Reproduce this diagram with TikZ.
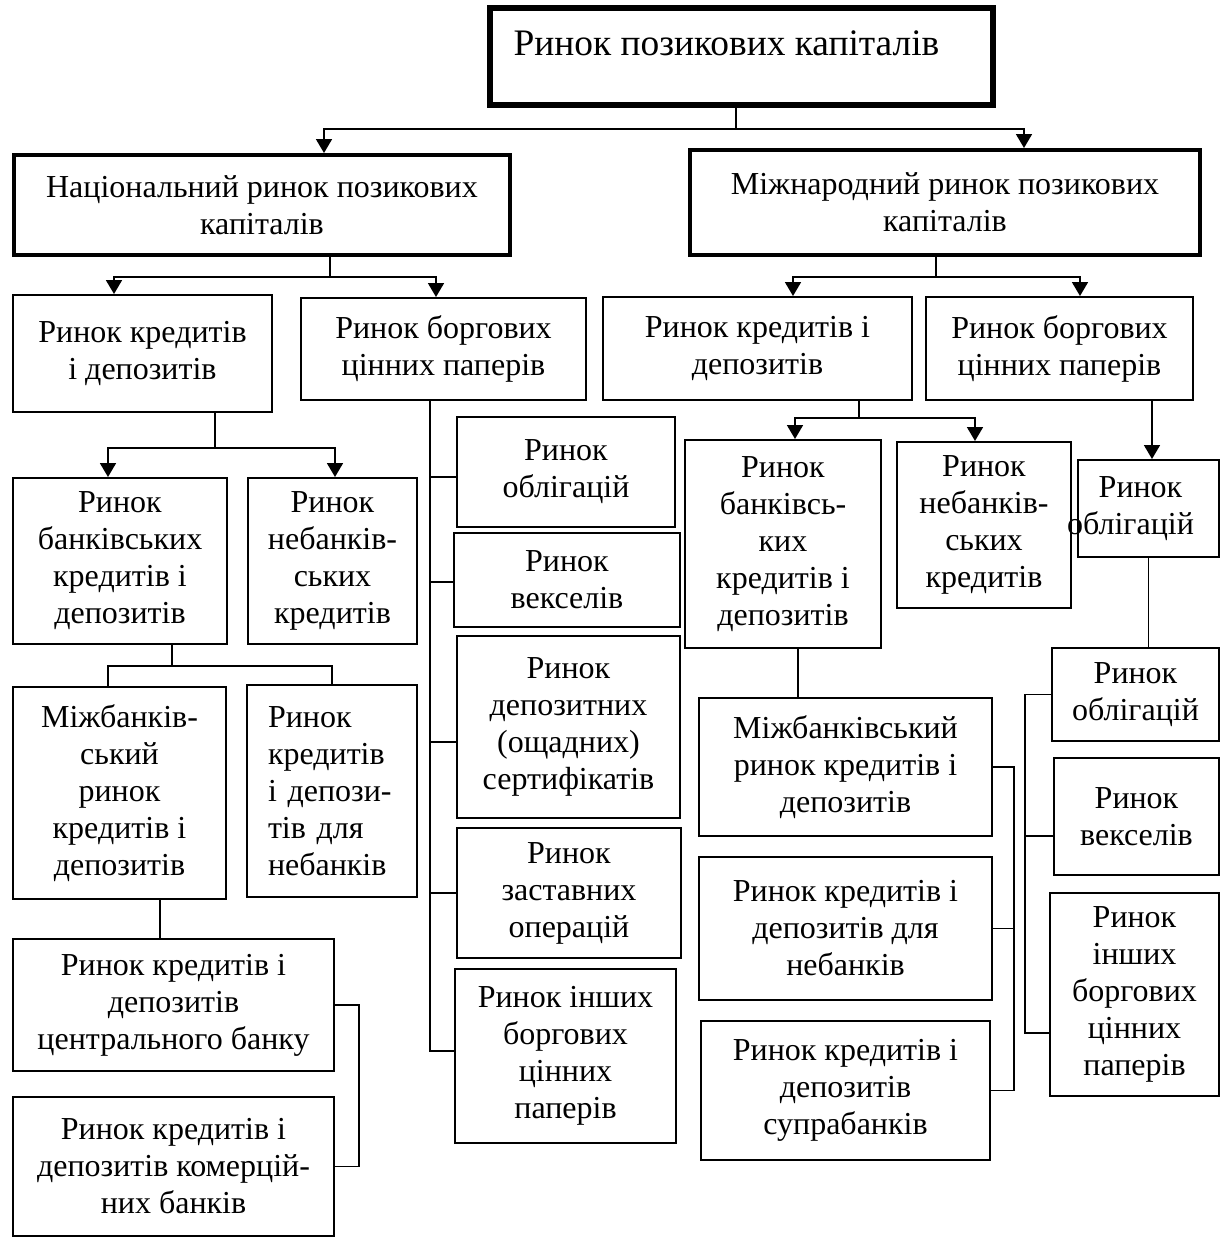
\documentclass[tikz,border=0pt]{standalone}
\usepackage{fontspec}
\setmainfont{Liberation Serif}
\usetikzlibrary{arrows.meta}

\begin{document}
\begin{tikzpicture}[x=0.5pt, y=-0.5pt, line width=0.9pt,
        every node/.style={font=\fontsize{16pt}{18.5pt}\selectfont},
        blk/.style={draw, line width=1pt, inner sep=0pt, align=center},
        bold/.style={blk, line width=2pt},
        arr/.style={-{Triangle[length=7pt, width=8pt]}}]
        \fill[white] (0,0) rectangle (1220,1238);
        \useasboundingbox (0,0) rectangle (1220,1238);

        % top levels
        \node[bold, line width=2.6pt, minimum width=251.5pt, minimum height=48.5pt, text height=14pt, text depth=15pt, font=\fontsize{18.7pt}{21pt}\selectfont] (top) at (741.5,56.5) {\hspace*{-15pt}Ринок позикових капіталів};
        \node[bold, minimum width=248pt, minimum height=50pt] (nat) at (262,205) {Національний ринок позикових\\капіталів};
        \node[bold, minimum width=255pt, minimum height=52.5pt] (intl) at (945,202.5) {Міжнародний ринок позикових\\капіталів};
        \node[blk, minimum width=129.5pt, minimum height=58.5pt] (nc) at (142.5,353.5) {Ринок кредитів\\і депозитів};
        \node[blk, minimum width=142.5pt, minimum height=51pt] (nd) at (443.5,349) {Ринок боргових\\цінних паперів};
        \node[blk, minimum width=154.5pt, minimum height=51.5pt] (ic) at (757.5,348.5) {Ринок кредитів і\\депозитів};
        \node[blk, minimum width=133.5pt, minimum height=51.5pt] (id) at (1059.5,348.5) {Ринок боргових\\цінних паперів};

        % national credits
        \node[blk, minimum width=107pt, minimum height=83pt] (nbank) at (120,561) {Ринок\\банківських\\кредитів і\\депозитів};
        \node[blk, minimum width=84.5pt, minimum height=83pt] (nnon) at (332.5,561) {Ринок\\небанків-\\ських\\кредитів};
        \node[blk, minimum width=106.5pt, minimum height=106pt] (ninter) at (119.5,793) {Міжбанків-\\ський\\ринок\\кредитів і\\депозитів};
        \node[blk, minimum width=85pt, minimum height=106pt, text width=64pt, align=left] (nfor) at (332,791) {Ринок\\кредитів\\і депози-\\тів для\\небанків};
        \node[blk, minimum width=160.5pt, minimum height=66pt] (ncb) at (173.5,1005) {Ринок кредитів і\\депозитів\\центрального банку};
        \node[blk, minimum width=160.5pt, minimum height=69.5pt] (ncom) at (173.5,1166.5) {Ринок кредитів і\\депозитів комерцій-\\них банків};

        % national debt securities
        \node[blk, minimum width=109pt, minimum height=55pt] (bonds) at (566,472) {Ринок\\облігацій};
        \node[blk, minimum width=113pt, minimum height=47pt] (bills) at (567,580) {Ринок\\векселів};
        \node[blk, minimum width=111.5pt, minimum height=91pt] (certs) at (568.5,727) {Ринок\\депозитних\\(ощадних)\\сертифікатів};
        \node[blk, minimum width=112pt, minimum height=65pt] (pledge) at (569,893) {Ринок\\заставних\\операцій};
        \node[blk, minimum width=110.5pt, minimum height=87pt] (odebt) at (565.5,1056) {Ринок інших\\боргових\\цінних\\паперів};

        % international
        \node[blk, minimum width=98pt, minimum height=104pt] (ibank) at (783,544) {Ринок\\банківсь-\\ких\\кредитів і\\депозитів};
        \node[blk, minimum width=87pt, minimum height=83pt] (inon) at (984,525) {Ринок\\небанків-\\ських\\кредитів};
        \node[blk, minimum width=70.5pt, minimum height=48.5pt] (ibondA) at (1148.5,508.5) {\hspace*{-8pt}Ринок\\\hspace*{-18pt}облігацій};
        \node[blk, minimum width=146.5pt, minimum height=69pt] (iinter) at (845.5,767) {Міжбанківський\\ринок кредитів і\\депозитів};
        \node[blk, minimum width=146.5pt, minimum height=71.5pt] (ifor) at (845.5,928.5) {Ринок кредитів і\\депозитів для\\небанків};
        \node[blk, minimum width=144.5pt, minimum height=69.5pt] (isupra) at (845.5,1090.5) {Ринок кредитів і\\депозитів\\супрабанків};
        \node[blk, minimum width=83.5pt, minimum height=46.5pt] (ibondB) at (1135.5,694.5) {Ринок\\облігацій};
        \node[blk, minimum width=82.5pt, minimum height=58.5pt] (ibillB) at (1136.5,816.5) {Ринок\\векселів};
        \node[blk, minimum width=84.5pt, minimum height=101.5pt] (iotherB) at (1134.5,994.5) {Ринок\\інших\\боргових\\цінних\\паперів};

        % connectors
        \draw ([xshift=-2.75pt]top.south) -- ++(0,21) coordinate (tj);
        \draw[arr] (tj) -| ([xshift=31pt]nat.north);
        \draw[arr] (tj) -| ([xshift=39.5pt]intl.north);

        \draw ([xshift=34pt]nat.south) -- ++(0,20) coordinate (nj);
        \draw[arr] (nj) -| ([xshift=-14.25pt]nc.north);
        \draw[arr] (nj) -| ([xshift=-3.75pt]nd.north);

        \draw ([xshift=-4.5pt]intl.south) -- ++(0,20) coordinate (ij);
        \draw[arr] (ij) -| ([xshift=17.75pt]ic.north);
        \draw[arr] (ij) -| ([xshift=10.25pt]id.north);

        \draw ([xshift=36.25pt]nc.south) -- ++(0,35) coordinate (ncj);
        \draw[arr] (ncj) -| ([xshift=-6pt]nbank.north);
        \draw[arr] (ncj) -| ([xshift=1.25pt]nnon.north);

        \draw ([xshift=26pt]nbank.south) -- ++(0,21) coordinate (nbj);
        \draw (nbj) -| ([xshift=-5.75pt]ninter.north);
        \draw (nbj) -| (nfor.north);
        \draw ([xshift=20.25pt]ninter.south) -- ([xshift=20.25pt]ninter.south |- ncb.north);
        \draw (ncb.east) -- ++(24,0) coordinate (nbr) |- (ncom.east);

        \draw ([xshift=-6.75pt]nd.south) coordinate (ndt) |- ([yshift=2.5pt]odebt.west);
        \foreach \n/\s in {bonds/-2.5pt, bills/-1pt, certs/-7.5pt, pledge/0pt}
            \draw ([yshift=\s]\n.west -| ndt) -- ([yshift=\s]\n.west);

        \draw ([xshift=50.75pt]ic.south) -- ++(0,17) coordinate (icj);
        \draw[arr] (icj) -| ([xshift=6pt]ibank.north);
        \draw[arr] (icj) -| ([xshift=-4.5pt]inon.north);
        \draw[arr] ([xshift=46.25pt]id.south) -- ([xshift=46.25pt]id.south |- ibondA.north);
        \draw (ibondA.south) -- (ibondA.south |- ibondB.north);
        \draw ([xshift=7.5pt]ibank.south) -- ([xshift=7.5pt]ibank.south |- iinter.north);

        \draw (iinter.east) -- ++(21,0) coordinate (ibr) |- (isupra.east);
        \draw (ibr |- ifor.east) -- (ifor.east);

        \draw (ibondB.west) -- ++(-26,0) coordinate (rbr) |- ([yshift=-19.25pt]iotherB.west);
        \draw ([yshift=-9.75pt]ibillB.west -| rbr) -- ([yshift=-9.75pt]ibillB.west);
    \end{tikzpicture}
\end{document}
